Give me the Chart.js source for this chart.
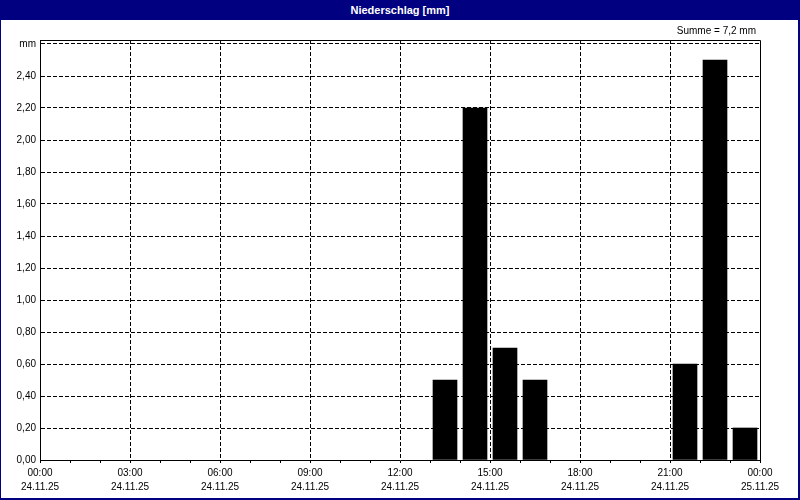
<!DOCTYPE html>
<html>
<head>
<meta charset="utf-8">
<script src="https://cdn.jsdelivr.net/npm/chart.js@4"></script>
<style>
  body { margin: 0; background: #fff; font-family: 'Liberation Sans', Arial, sans-serif; }
  #wrap { position: relative; width: 800px; height: 500px; overflow: hidden; }
  #chart { position: absolute; left: 0; top: 0; }
  #titlebar { position: absolute; left: 0; top: 0; width: 800px; height: 20px; background: #000080;
    color: #fff; font-weight: bold; font-size: 11px; line-height: 20px; text-align: center; }
  #summe { position: absolute; right: 44px; top: 25px; font-size: 10px; line-height: 12px; color: #000; }
  #frame { position: absolute; left: 0; top: 0; width: 800px; height: 500px; box-sizing: border-box;
    border: 1px solid #000080; border-right-width: 2px; border-bottom-width: 2px; pointer-events: none; }
</style>
</head>
<body>
<div id="wrap">
  <canvas id="chart" width="800" height="500"></canvas>
  <div id="titlebar">Niederschlag [mm]</div>
  <div id="summe">Summe = 7,2 mm</div>
  <div id="frame"></div>
</div>
<script>
// Stundenwerte (Beginn der Stunde) und Niederschlag in mm
const hours = [13, 14, 15, 16, 21, 22, 23];
const rain = [0.5, 2.2, 0.7, 0.5, 0.6, 2.5, 0.2];

// Achsenbeschriftung
const xTicks = [0, 1, 2, 3, 4, 5, 6, 7, 8, 9, 10, 11, 12, 13, 14, 15, 16, 17, 18, 19, 20, 21, 22, 23, 24];
const timeLabels = ['00:00', '03:00', '06:00', '09:00', '12:00', '15:00', '18:00', '21:00', '00:00'];
const dateLabels = ['24.11.25', '24.11.25', '24.11.25', '24.11.25', '24.11.25', '24.11.25', '24.11.25', '24.11.25', '25.11.25'];
const yTicks = [0, 0.2, 0.4, 0.6, 0.8, 1.0, 1.2, 1.4, 1.6, 1.8, 2.0, 2.2, 2.4, 2.6];

Chart.defaults.font.family = "'Liberation Sans', Arial, sans-serif";
Chart.defaults.font.size = 10;
Chart.defaults.color = '#000';

// Rahmen oben und rechts um die Zeichenfläche
const framePlugin = {
  id: 'plotFrame',
  afterDraw(chart) {
    const { ctx, chartArea: a } = chart;
    const top = Math.round(a.top) + 0.5;
    const right = Math.round(a.right) + 0.5;
    ctx.save();
    ctx.strokeStyle = '#000';
    ctx.lineWidth = 1;
    ctx.beginPath();
    ctx.moveTo(Math.round(a.left), top);
    ctx.lineTo(right, top);
    ctx.lineTo(right, Math.round(a.bottom) + 1);
    ctx.stroke();
    ctx.restore();
  }
};

new Chart(document.getElementById('chart').getContext('2d'), {
  type: 'bar',
  data: {
    datasets: [{
      data: hours.map((h, i) => ({ x: h + 0.5, y: rain[i] })),
      backgroundColor: '#000',
      borderWidth: 0,
      barThickness: 24
    }]
  },
  options: {
    responsive: false,
    animation: false,
    layout: { padding: { left: 0, top: 40, right: 40, bottom: 0 } },
    plugins: {
      legend: { display: false },
      tooltip: { enabled: false }
    },
    scales: {
      x: {
        type: 'linear',
        min: 0,
        max: 24,
        offset: false,
        afterBuildTicks: scale => { scale.ticks = xTicks.map(v => ({ value: v })); },
        afterFit: scale => {
          scale.height = 40;
          scale.paddingLeft = 0;
          scale.paddingRight = 0;
        },
        ticks: {
          autoSkip: false,
          maxRotation: 0,
          padding: 3,
          font: { size: 10, lineHeight: 1.4 },
          callback: v => (v % 3 === 0 ? [timeLabels[v / 3], dateLabels[v / 3]] : '')
        },
        grid: {
          offset: false,
          color: ctx => (ctx.tick && ctx.tick.value % 3 === 0 && ctx.tick.value > 0 && ctx.tick.value < 24 ? '#000' : 'rgba(0,0,0,0)'),
          lineWidth: 1,
          tickColor: '#000',
          tickLength: 3,
          tickBorderDash: []
        },
        border: { display: true, color: '#000', width: 1, dash: [4, 2] }
      },
      y: {
        min: 0,
        max: 2.625,
        afterBuildTicks: scale => { scale.ticks = yTicks.map(v => ({ value: v })); },
        afterFit: scale => { scale.width = 40; },
        ticks: {
          padding: 4,
          callback: v => (v > 2.55 ? 'mm' : v.toFixed(2).replace('.', ','))
        },
        grid: {
          color: '#000',
          lineWidth: 1,
          drawTicks: false
        },
        border: { display: true, color: '#000', width: 1, dash: [4, 2] }
      }
    }
  },
  plugins: [framePlugin]
});
</script>
</body>
</html>
